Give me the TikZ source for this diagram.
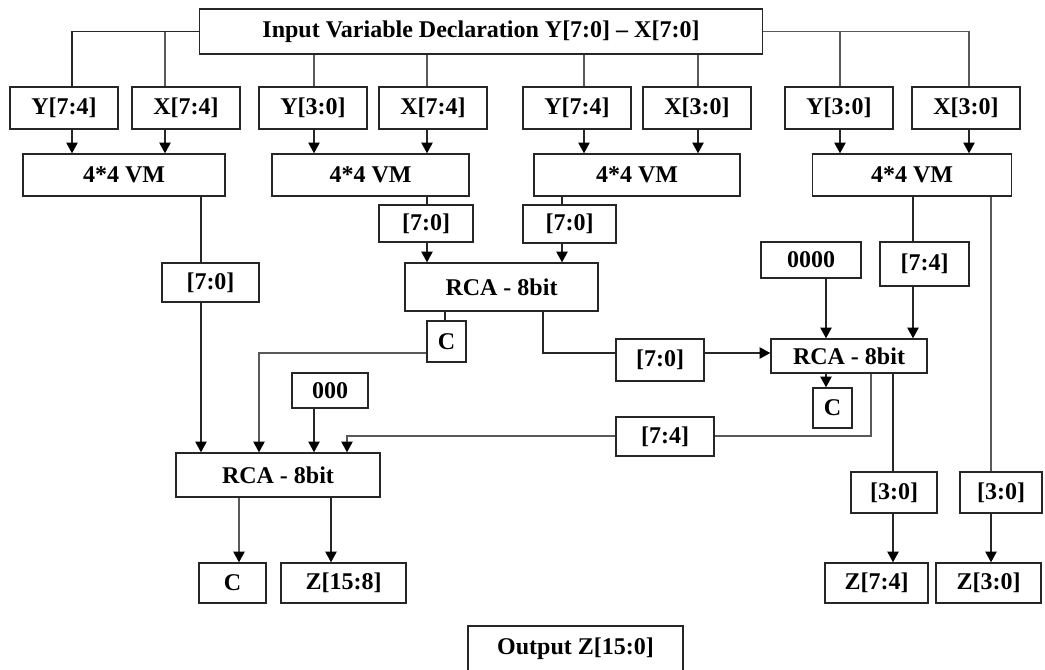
\documentclass[tikz,border=0pt]{standalone}
\usepackage{fontspec}
\setmainfont{Liberation Serif}
\usetikzlibrary{arrows.meta}

\tikzset{
  blk/.style={draw=black!85,line width=1.1pt,fill=white,inner sep=0pt,
    font=\fontsize{18}{20}\selectfont\bfseries},
  sz/.style 2 args={minimum width=#1*0.75pt,minimum height=#2*0.75pt},
  wire/.style={line width=1pt,draw=black!85},
  wireg/.style={line width=1pt,draw=black!65},
  arr/.style={wire,-{Triangle[width=8.5pt,length=8pt,color=black]}},
  arrg/.style={wireg,-{Triangle[width=8.5pt,length=8pt,color=black]}}
}

\begin{document}
\begin{tikzpicture}[x=0.75pt,y=-0.75pt]

\fill[white] (0,0) rectangle (1045,669);
\useasboundingbox (0,0) rectangle (1045,669);
\clip (0,0) rectangle (1045,669);

% Input
\node[blk,sz={563}{45}] (inp) at (481,31.5)
    {Input Variable Declaration Y[7:0] – X[7:0]};

% Operand halves
\foreach \n/\x/\t in {ya/64/{Y[7:4]}, xa/186/{X[7:4]}, yb/313/{Y[3:0]},
    xb/433/{X[7:4]}, yc/577/{Y[7:4]}, xc/697/{X[3:0]}, yd/839/{Y[3:0]},
    xd/966/{X[3:0]}}
    \node[blk,sz={108}{42}] (\n) at (\x,108) {\t};

% Vedic multipliers
\foreach \n/\x/\w in {vm1/124/202, vm2/370.5/197, vm3/637/206, vm4/912/199}
    \node[blk,sz={\w}{42}] (\n) at (\x,175) {4*4 VM};

% Partial products and adders
\node[blk,sz={97}{39}] (pa) at (210.5,282.5) {[7:0]};
\node[blk,sz={94}{37}] (pb) at (426,223.5) {[7:0]};
\node[blk,sz={93}{38}] (pc) at (569.5,224) {[7:0]};
\node[blk,sz={193}{48}] (rca1) at (501.5,287) {RCA - 8bit};
\node[blk,sz={39}{41}] (ca) at (446.5,341.5) {C};
\node[blk,sz={88}{42}] (pd) at (660,360) {[7:0]};
\node[blk,sz={100}{36}] (zf) at (811,260) {0000};
\node[blk,sz={89}{44}] (pe) at (924.5,264) {[7:4]};
\node[blk,sz={156}{34}] (rca2) at (849,356) {RCA - 8bit};
\node[blk,sz={39}{40}] (cb) at (832.5,408) {C};
\node[blk,sz={98}{39}] (pf) at (665,436.5) {[7:4]};
\node[blk,sz={86}{41}] (pg) at (894,492.5) {[3:0]};
\node[blk,sz={82}{41}] (ph) at (1001,492.5) {[3:0]};
\node[blk,sz={76}{35}] (zt) at (330,390.5) {000};
\node[blk,sz={204}{44}] (rca3) at (278,475) {RCA - 8bit};

% Outputs
\node[blk,sz={67}{40}] (cc) at (232.5,583) {C};
\node[blk,sz={125}{40}] (zh) at (343.5,583) {Z[15:8]};
\node[blk,sz={103}{40}] (zm) at (876.5,583) {Z[7:4]};
\node[blk,sz={105}{40}] (zl) at (988.5,583) {Z[3:0]};
\node[blk,sz={215}{46}] (out) at (575.5,649) {Output Z[15:0]};

% Input to halves
\draw[wire] (inp.west) -| (ya.north -| 72,0);
\draw[wireg] (inp.west -| 165,0) -- (xa.north -| 165,0);
\foreach \a/\k in {yb/314, xb/427, yc/584, xc/698}
    \draw[wireg] (inp.south -| \k,0) -- (\a.north -| \k,0);
\draw[wireg] (inp.east) -| (xd.north -| 969,0);
\draw[wireg] (inp.east -| 840,0) -- (yd.north -| 840,0);

% Halves to multipliers
\foreach \a/\b/\k in {ya/vm1/72, xa/vm1/165, yb/vm2/314, xb/vm2/427,
    yc/vm3/584, xc/vm3/698, yd/vm4/840, xd/vm4/969}
    \draw[arr] (\a.south -| \k,0) -- (\b.north -| \k,0);

% VM1 branch
\draw[wire] (vm1.south -| 201,0) -- (pa.north -| 201,0);
\draw[arr] (pa.south -| 201,0) -- (rca3.north -| 201,0);

% VM2, VM3 into first adder
\draw[wire] (vm2.south -| 427,0) -- (pb.north -| 427,0);
\draw[arr] (pb.south -| 427,0) -- (rca1.north -| 427,0);
\draw[wire] (vm3.south -| 562,0) -- (pc.north -| 562,0);
\draw[arr] (pc.south -| 562,0) -- (rca1.north -| 562,0);

% First adder out
\draw[wire] (rca1.south -| 445,0) -- (ca.north -| 445,0);
\draw[arrg] (ca.west |- 0,353) -| (rca3.north -| 259,0);
\draw[wire] (rca1.south -| 543,0) |- (pd.west |- 0,353);
\draw[arr] (pd.east |- 0,353) -- (rca2.west |- 0,353);

% VM4 branch
\draw[wire] (vm4.south -| 913,0) -- (pe.north -| 913,0);
\draw[arr] (pe.south -| 913,0) -- (rca2.north -| 913,0);
\draw[arr] (zf.south -| 826,0) -- (rca2.north -| 826,0);
\draw[wireg] (vm4.south -| 991,0) -- (ph.north -| 991,0);
\draw[arr] (ph.south -| 991,0) -- (zl.north -| 991,0);

% Second adder out
\draw[arr] (rca2.south -| 826,0) -- (cb.north -| 826,0);
\draw[wireg] (rca2.south -| 871,0) |- (pf.east |- 0,436);
\draw[arrg] (pf.west |- 0,436) -| (rca3.north -| 347,0);
\draw[wire] (rca2.south -| 893,0) -- (pg.north -| 893,0);
\draw[arr] (pg.south -| 893,0) -- (zm.north -| 893,0);

% Third adder
\draw[arr] (zt.south -| 314,0) -- (rca3.north -| 314,0);
\draw[arrg] (rca3.south -| 239,0) -- (cc.north -| 239,0);
\draw[arr] (rca3.south -| 331,0) -- (zh.north -| 331,0);

\end{tikzpicture}
\end{document}
